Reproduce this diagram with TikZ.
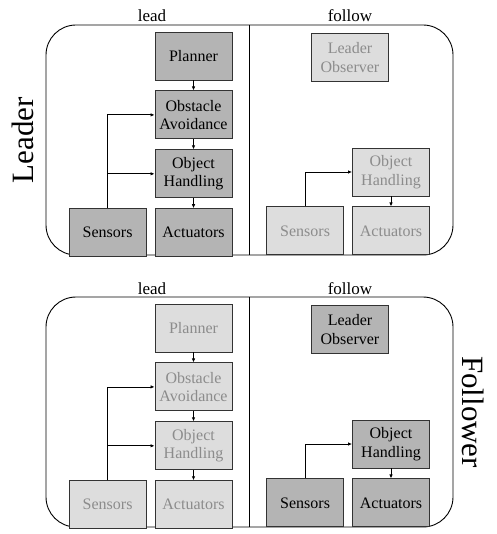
\documentclass[tikz,border=0pt]{standalone}
\usepackage{fontspec}
\setmainfont{Liberation Serif}
\usetikzlibrary{arrows.meta, positioning}

\definecolor{onfill}{HTML}{B4B4B4}
\definecolor{offfill}{HTML}{DDDDDD}
\definecolor{offtext}{HTML}{8C8C8C}

\begin{document}
\begin{tikzpicture}[
  x=1pt, y=1pt,
  node distance=10pt and 8pt,
  on/.style={rectangle, draw=black!80, line width=0.9pt, fill=onfill,
             minimum width=77pt, minimum height=48pt, inner sep=0pt,
             align=center, font=\fontsize{16}{18.5}\selectfont},
  off/.style={on, fill=offfill, text=offtext},
  frame/.style={draw, line width=0.9pt, rounded corners=30pt},
  tag/.style={anchor=base, font=\fontsize{17}{20}\selectfont},
  role/.style={font=\fontsize{31}{34}\selectfont},
  arr/.style={-{Latex[length=4pt, width=3.5pt]}, line width=0.8pt}
]
  \useasboundingbox (0,0) rectangle (496,-534);

  % Leader
  \draw[frame] (46,-25) rectangle (453,-255);
  \draw[line width=0.9pt] (249,-25) -- (249,-255);
  \node[tag] (leadA) at (152,-22) {lead};
  \node[tag] (followA) at (350,-22) {follow};
  \node[role, rotate=90] (leader) at (23,-140) {Leader};

  \node[on] (planA) at (193.5,-56) {Planner};
  \node[on, below=of planA] (obstA) {Obstacle\\Avoidance};
  \node[on, below=of obstA] (objA) {Object\\Handling};
  \node[on, below=of objA] (actA) {Actuators};
  \node[on, left=of actA] (sensA) {Sensors};

  \node[off] (obsvA) at (350,-57.5) {Leader\\Observer};
  \node[off] (objB) at (391,-172) {Object\\Handling};
  \node[off, below=of objB] (actB) {Actuators};
  \node[off, left=of actB] (sensB) {Sensors};

  \draw[arr] (planA) -- (obstA);
  \draw[arr] (obstA) -- (objA);
  \draw[arr] (objA) -- (actA);
  \draw[arr] (sensA.north) |- (obstA.west);
  \draw[arr] (sensA.north) |- (objA.west);
  \draw[arr] (objB) -- (actB);
  \draw[arr] (sensB.north) |- (objB.west);

  % Follower
  \draw[frame] (46,-297) rectangle (453,-527);
  \draw[line width=0.9pt] (249,-297) -- (249,-527);
  \node[tag] (leadC) at (152,-294) {lead};
  \node[tag] (followC) at (350,-294) {follow};
  \node[role, rotate=-90] (follower) at (473,-412) {Follower};

  \node[off] (planC) at (193.5,-328) {Planner};
  \node[off, below=of planC] (obstC) {Obstacle\\Avoidance};
  \node[off, below=of obstC] (objC) {Object\\Handling};
  \node[off, below=of objC] (actC) {Actuators};
  \node[off, left=of actC] (sensC) {Sensors};

  \node[on] (obsvD) at (350,-329.5) {Leader\\Observer};
  \node[on] (objD) at (391,-444) {Object\\Handling};
  \node[on, below=of objD] (actD) {Actuators};
  \node[on, left=of actD] (sensD) {Sensors};

  \draw[arr] (planC) -- (obstC);
  \draw[arr] (obstC) -- (objC);
  \draw[arr] (objC) -- (actC);
  \draw[arr] (sensC.north) |- (obstC.west);
  \draw[arr] (sensC.north) |- (objC.west);
  \draw[arr] (objD) -- (actD);
  \draw[arr] (sensD.north) |- (objD.west);
\end{tikzpicture}
\end{document}
